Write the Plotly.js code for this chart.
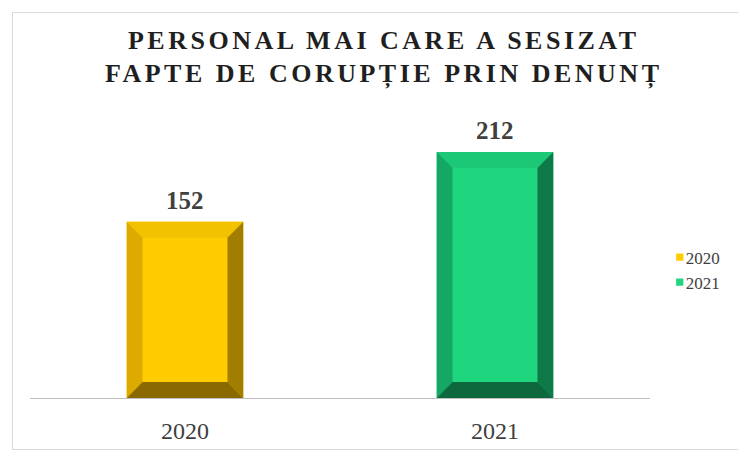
<!DOCTYPE html>
<html>
<head>
<meta charset="utf-8">
<script src="https://cdn.plot.ly/plotly-3.0.1.min.js"></script>
<style>
    body { margin: 0; background: #fff; }
    #wrap { position: relative; width: 738px; height: 450px; overflow: hidden; }
    #frame { position: absolute; left: 12px; top: 12px; width: 800px; height: 436px;
             border: 1px solid #d9d9d9; pointer-events: none; }
    #chart .gtitle { letter-spacing: 3.5px; }
    /* small square legend keys sitting right next to the text */
    #chart .legend .legendpoints path { transform: translate(34px, 0) scale(0.6); }
</style>
</head>
<body>
<div id="wrap">
    <div id="chart" style="width:738px;height:450px;"></div>
    <div id="frame"></div>
</div>
<script>
    // Data
    const years = ['2020', '2021'];
    const values = [152, 212];
    const faceColors = ['#FFCC00', '#1FD67F'];
    const topColors = ['#F2C200', '#1CC776'];
    const leftColors = ['#DDAA00', '#14A864'];
    const rightColors = ['#A27E00', '#0E7A48'];
    const bottomColors = ['#8A6A00', '#0D693D'];

    const FONT = '"Liberation Serif", "Times New Roman", serif';
    const barWidth = 0.376;
    const pos = years.map((_, i) => i);

    const traces = years.map((yr, i) => ({
        type: 'bar',
        name: yr,
        x: [pos[i]],
        y: [values[i]],
        width: barWidth,
        marker: { color: faceColors[i], line: { width: 0 } },
        hoverinfo: 'y'
    }));

    // Bevel edges drawn over each bar, built from the bar values
    const bx = 0.051, by = 13.8, hw = barWidth / 2;
    const shapes = [];
    values.forEach((v, i) => {
        const l = pos[i] - hw, r = pos[i] + hw;
        const pieces = [
            [`M${l},${v} L${r},${v} L${r - bx},${v - by} L${l + bx},${v - by} Z`, topColors[i]],
            [`M${l},0 L${l},${v} L${l + bx},${v - by} L${l + bx},${by} Z`, leftColors[i]],
            [`M${r},0 L${r},${v} L${r - bx},${v - by} L${r - bx},${by} Z`, rightColors[i]],
            [`M${l},0 L${r},0 L${r - bx},${by} L${l + bx},${by} Z`, bottomColors[i]]
        ];
        pieces.forEach(([path, col]) => shapes.push({
            type: 'path', xref: 'x', yref: 'y', path: path,
            fillcolor: col, line: { width: 0 }, layer: 'above'
        }));
    });

    const annotations = values.map((v, i) => ({
        x: pos[i], y: v, text: String(v),
        xref: 'x', yref: 'y', showarrow: false,
        yanchor: 'bottom', yshift: 6,
        font: { family: FONT, size: 25, color: '#404040', weight: 'bold' }
    }));

    const layout = {
        width: 738,
        height: 450,
        margin: { l: 30, r: 88, t: 108, b: 52, autoexpand: false },
        paper_bgcolor: '#ffffff',
        plot_bgcolor: '#ffffff',
        barmode: 'overlay',
        title: {
            text: 'PERSONAL MAI CARE A SESIZAT<br>FAPTE DE CORUPȚIE PRIN DENUNȚ',
            font: { family: FONT, size: 26, color: '#1f1f1f', weight: 'bold' },
            xref: 'container', x: 0.52,
            yref: 'container', y: 0.892, yanchor: 'top'
        },
        xaxis: {
            range: [-0.5, 1.5],
            tickvals: pos, ticktext: years,
            showline: true, linecolor: '#bfbfbf', linewidth: 1,
            showgrid: false, zeroline: false, ticks: '',
            ticklabelstandoff: 11,
            tickfont: { family: FONT, size: 24, color: '#404040' }
        },
        yaxis: {
            range: [0, 250],
            visible: false,
            showgrid: false, zeroline: false
        },
        showlegend: true,
        legend: {
            xref: 'container', x: 0.875, xanchor: 'left',
            yref: 'container', y: 0.4, yanchor: 'middle',
            font: { family: FONT, size: 17, color: '#404040' },
            itemwidth: 30,
            tracegroupgap: 0
        },
        shapes: shapes,
        annotations: annotations
    };

    Plotly.newPlot('chart', traces, layout, { displayModeBar: false, staticPlot: true });
</script>
</body>
</html>
